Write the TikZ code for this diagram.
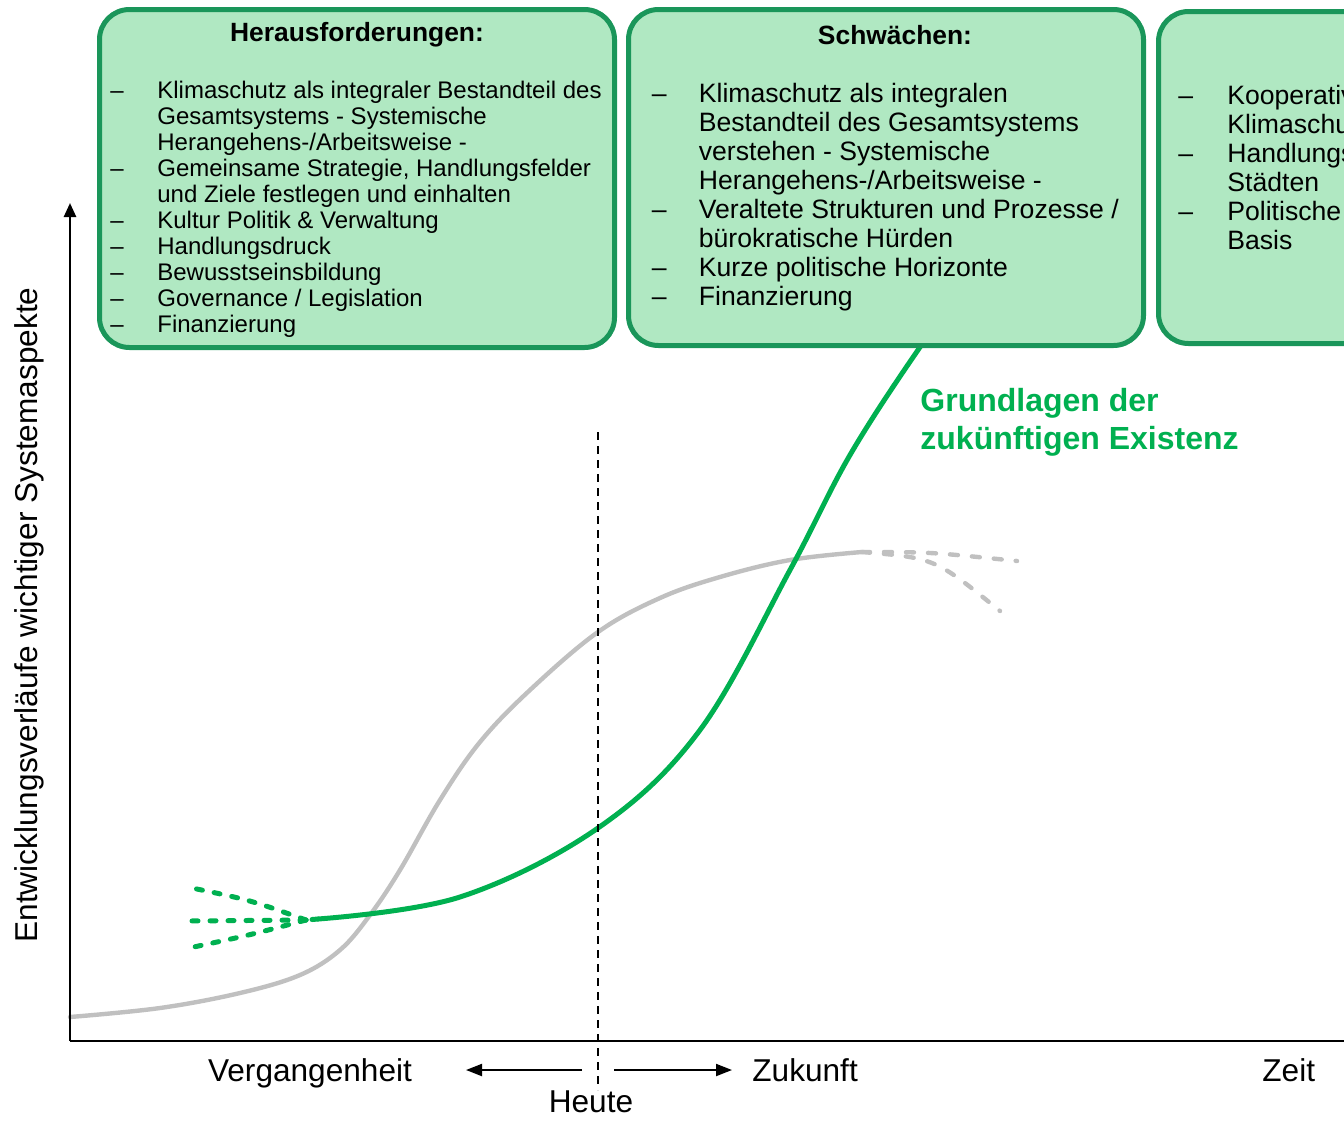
\documentclass[tikz,border=0pt]{standalone}
\usepackage{fontspec}
\setmainfont{Liberation Sans}
\usetikzlibrary{arrows.meta}
\definecolor{boxfill}{RGB}{176,232,194}
\definecolor{boxline}{RGB}{26,150,90}
\definecolor{curvegreen}{RGB}{0,176,80}
\definecolor{curvegray}{RGB}{192,192,192}

\begin{document}
\begin{tikzpicture}[x=0.5pt,y=-0.5pt,
  panel/.style={draw=boxline, fill=boxfill, line width=2.5pt, rounded corners=15pt,
    anchor=north west, minimum width=257.5pt, inner sep=0pt},
  paneltitle/.style={anchor=base, font=\fontsize{13.2}{15}\selectfont\bfseries, inner sep=0pt},
  smalllist/.style={anchor=base west, inner sep=0pt, font=\fontsize{12}{13}\selectfont},
  biglist/.style={anchor=base west, inner sep=0pt, font=\fontsize{13.3}{14.5}\selectfont},
  axis/.style={line width=1.25pt, black},
  axislabel/.style={font=\fontsize{15.8}{18}\selectfont, inner sep=0pt},
  greencurve/.style={line width=2.5pt, curvegreen, line cap=round},
  graycurve/.style={line width=2.2pt, curvegray, line cap=round},
  greendash/.style={greencurve, dash pattern=on 3pt off 6pt},
  graydash/.style={graycurve, dash pattern=on 4pt off 7pt},
  timearrow/.style={line width=1pt, -{Triangle[length=8pt,width=6pt]}}]
\useasboundingbox (0,0) rectangle (1344,1120);
\clip (0,0) rectangle (1344,1120);

% named points of the axes and time arrows
\coordinate (o) at (70,1041);
\coordinate (ytop) at (70,203);
\coordinate (xend) at (1358,1041);
\coordinate (nowtop) at (598,432);
\coordinate (nowbot) at (598,1090);
\coordinate (pastA) at (582,1070);
\coordinate (pastB) at (466,1070);
\coordinate (futA) at (614,1070);
\coordinate (futB) at (732,1070);

% grey development curve with its two dashed continuations
\coordinate (g0) at (70,1017);
\coordinate (gend) at (862,552);
\coordinate (gup) at (1017,561);
\coordinate (gdown) at (1000,611);
\draw[graycurve] plot[smooth, tension=0.6] coordinates {
  (g0) (160,1008) (240,993) (300,975) (340,950) (370,915) (400,870)
  (440,800) (480,742) (530,690) (598,632) (660,598) (720,577) (790,560) (gend)};
\draw[graydash] (gend) .. controls (930,552) .. (gup);
\draw[graydash] (gend) .. controls (935,558) .. (gdown);

% green development curve with the dashed fan at its start
\coordinate (s0) at (318,919);
\coordinate (fan) at (306,920);
\coordinate (fanup) at (192,888);
\coordinate (fanmid) at (185,921);
\coordinate (fanlow) at (189,948);
\draw[greencurve] plot[smooth, tension=0.6] coordinates {
  (s0) (460,897) (598,828) (700,730)
  (790,570) (850,455) (918,350) (960,295)};
\draw[greendash] (s0) -- (fan);
\draw[greendash] (fan) .. controls (250,900) .. (fanup);
\draw[greendash] (fan) -- (fanmid);
\draw[greendash] (fan) .. controls (250,935) .. (fanlow);

% axes
\draw[axis, -{Triangle[length=7pt,width=6pt]}] (o) -- (ytop);
\draw[axis, -{Triangle[length=7pt,width=6pt]}] (o) -- (xend);
\draw[line width=1pt, dash pattern=on 4pt off 3pt] (nowtop) -- (nowbot);
\draw[timearrow] (pastA) -- (pastB);
\draw[timearrow] (futA) -- (futB);

% axis texts
\node[axislabel, rotate=90] (ylab) at (29,615) {Entwicklungsverläufe wichtiger Systemaspekte};
\node[axislabel, anchor=base] (past) at (310,1081) {Vergangenheit};
\node[axislabel, anchor=base west] (future) at (752,1081) {Zukunft};
\node[axislabel, anchor=base] (today) at (591,1112) {Heute};
\node[axislabel, anchor=base west] (time) at (1262,1081) {Zeit};

\node[anchor=base west, inner sep=0pt, align=left, text=curvegreen,
  font=\fontsize{16}{19}\selectfont\bfseries] (basis) at (920,449)
  {Grundlagen der\\zukünftigen Existenz};

% panels
\node[panel, minimum height=169pt] (p1) at (97,7) {};
\node[panel, minimum height=168pt] (p2) at (626,7) {};
\node[panel, minimum height=166pt] (p3) at (1156,9) {};

\node[paneltitle] (t1) at (357,41.5) {Herausforderungen:};
\node[paneltitle] (t2) at (895,44) {Schwächen:};

\node[smalllist] (l1) at (110,98) {\begin{tabular}[t]{@{}p{23.5pt}@{}l@{}}
– & Klimaschutz als integraler Bestandteil des\\
  & Gesamtsystems - Systemische\\
  & Herangehens-/Arbeitsweise -\\
– & Gemeinsame Strategie, Handlungsfelder\\
  & und Ziele festlegen und einhalten\\
– & Kultur Politik \& Verwaltung\\
– & Handlungsdruck\\
– & Bewusstseinsbildung\\
– & Governance / Legislation\\
– & Finanzierung
\end{tabular}};

\node[biglist] (l2) at (651.5,102.5) {\begin{tabular}[t]{@{}p{23.5pt}@{}l@{}}
– & Klimaschutz als integralen\\
  & Bestandteil des Gesamtsystems\\
  & verstehen - Systemische\\
  & Herangehens-/Arbeitsweise -\\
– & Veraltete Strukturen und Prozesse /\\
  & bürokratische Hürden\\
– & Kurze politische Horizonte\\
– & Finanzierung
\end{tabular}};

\node[biglist] (l3) at (1178,104) {\begin{tabular}[t]{@{}p{24.5pt}@{}l@{}}
– & Kooperative\\
  & Klimaschutz\\
– & Handlungs\\
  & Städten\\
– & Politische \\
  & Basis
\end{tabular}};
\end{tikzpicture}
\end{document}
